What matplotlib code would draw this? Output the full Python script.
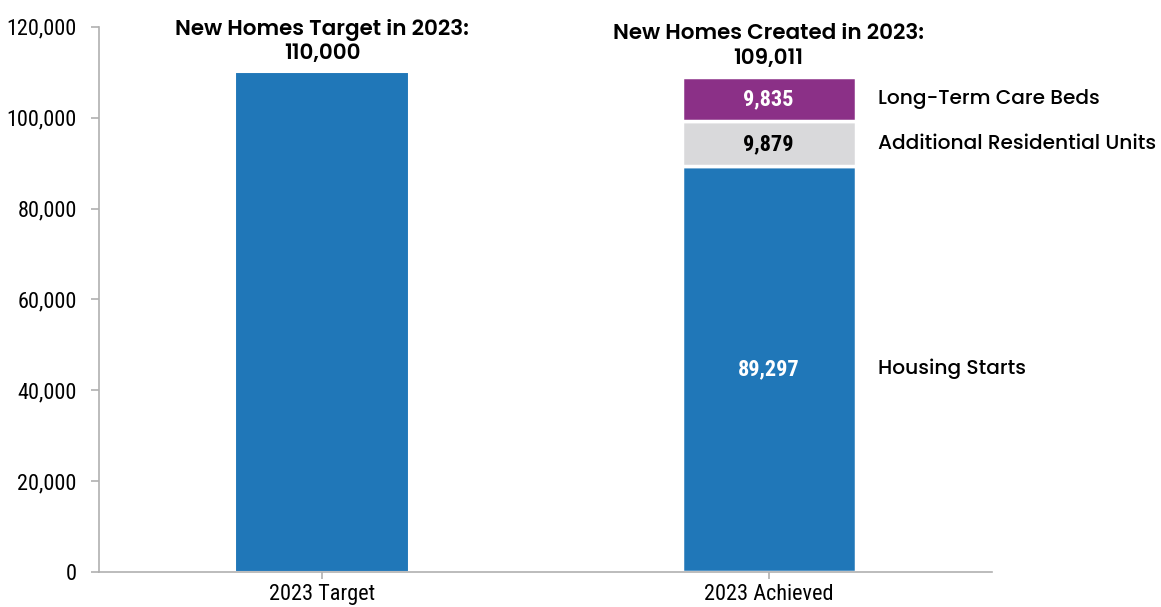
import matplotlib
matplotlib.use("Agg")
import matplotlib.pyplot as plt
from matplotlib import font_manager as fm

categories = ["2023 Target", "2023 Achieved"]
target = [110000, 0]
housing_starts = [0, 89297]
aru = [0, 9879]
ltc = [0, 9835]
segment_names = ["Housing Starts", "Additional Residential Units", "Long-Term Care Beds"]
titles = ["New Homes Target in 2023:\n110,000", "New Homes Created in 2023:\n109,011"]

names = {f.name for f in fm.fontManager.ttflist}
narrow = "Roboto Condensed" if "Roboto Condensed" in names else "DejaVu Sans"
head = next((n for n in ["Poppins", "Lato"] if n in names), "DejaVu Sans")

blue = "#2077B8"
purple = "#8B3087"
gray = "#D9D9DB"

fig = plt.figure(figsize=(11.61, 6.07), dpi=100)
ax = fig.add_axes([0.0853, 0.0577, 0.769, 0.898])

x = [0, 1]
w = 0.39
ax.bar(x[0], target[0], width=w, color=blue, edgecolor="white", linewidth=1.5)
ax.bar(x[1], housing_starts[1], width=w, color=blue, edgecolor="white", linewidth=2.5)
ax.bar(x[1], aru[1], bottom=housing_starts[1], width=w, color=gray, edgecolor="white", linewidth=2.5)
ax.bar(x[1], ltc[1], bottom=housing_starts[1] + aru[1], width=w, color=purple, edgecolor="white", linewidth=2.5)

segs = [(0, housing_starts[1], "white"), (housing_starts[1], aru[1], "black"),
        (housing_starts[1] + aru[1], ltc[1], "white")]
for (bot, h, c), nm in zip(segs, segment_names):
    ax.text(x[1], bot + h / 2, f"{h:,}", ha="center", va="center", color=c,
            fontsize=16, fontweight="bold", family=narrow)
    ax.text(x[1] + 0.245, bot + h / 2, nm, ha="left", va="center", color="black",
            fontsize=14.5, fontweight=500, family=head, clip_on=False)

tops = [target[0], housing_starts[1] + aru[1] + ltc[1]]
for xi, t, tt in zip(x, tops, titles):
    ax.annotate(tt, (xi, t), xytext=(0, 5), textcoords="offset points", ha="center",
                va="bottom", fontsize=15.5, fontweight=600, family=head,
                linespacing=1.15, annotation_clip=False)

ax.set_xlim(-0.5, 1.5)
ax.set_ylim(0, 120000)
ax.set_yticks(range(0, 120001, 20000))
ax.set_yticklabels([f"{v:,}" for v in range(0, 120001, 20000)], family=narrow, fontsize=16)
ax.set_xticks(x)
ax.set_xticklabels(categories, family=narrow, fontsize=16)

for s in ["top", "right"]:
    ax.spines[s].set_visible(False)
for s in ["left", "bottom"]:
    ax.spines[s].set_color("#b0b0b0")
    ax.spines[s].set_linewidth(1.2)
ax.tick_params(axis="both", colors="#b0b0b0", labelcolor="black", length=6, width=1.2)
ax.tick_params(axis="y", pad=10)
ax.tick_params(axis="x", length=5, pad=4)

fig.savefig("out.png", dpi=100)
